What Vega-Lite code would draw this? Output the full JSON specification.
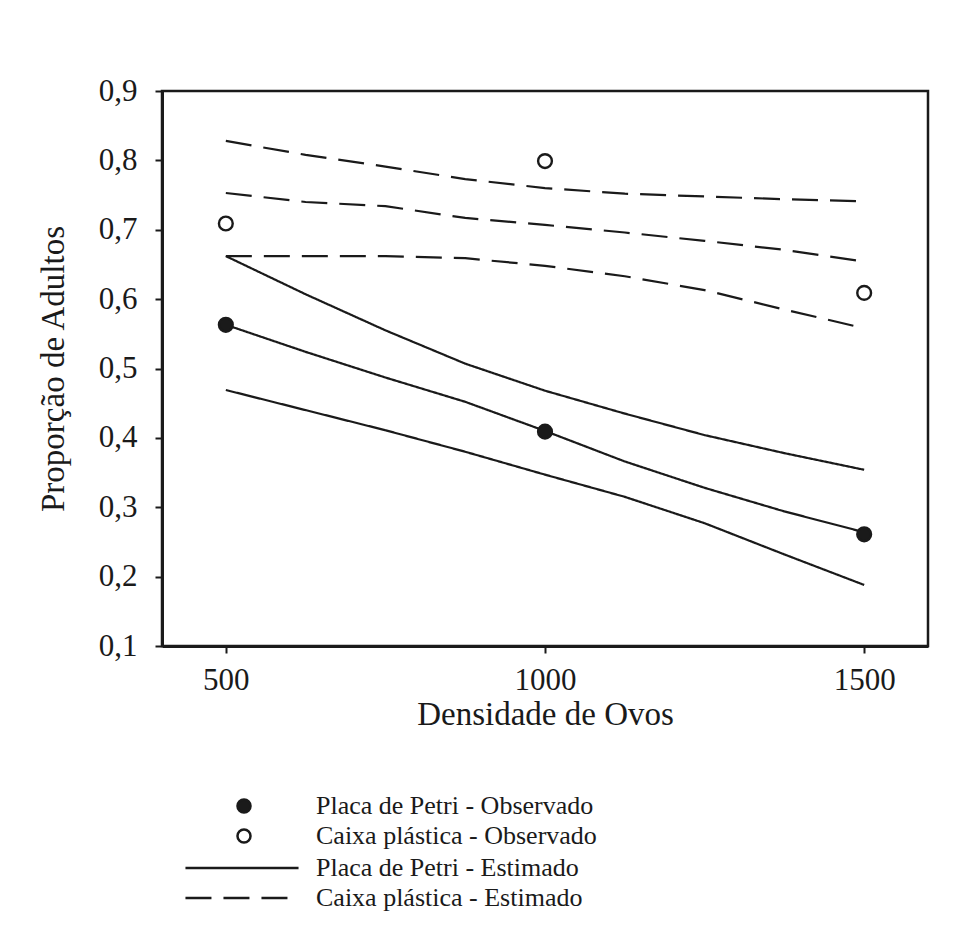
{
  "$schema": "https://vega.github.io/schema/vega-lite/v6.json",
  "width": 766,
  "height": 555,
  "autosize": {"type": "none"},
  "padding": {"left": 162, "top": 91, "right": 34, "bottom": 294},
  "background": "white",
  "config": {
    "view": {"stroke": "#1a1a1a", "strokeWidth": 2.5},
    "font": "Liberation Serif",
    "axis": {"grid": false, "domainColor": "#1a1a1a", "domainWidth": 3, "tickColor": "#1a1a1a", "tickWidth": 2, "tickSize": 7, "labelColor": "#1a1a1a", "titleColor": "#1a1a1a", "labelFont": "Liberation Serif", "titleFont": "Liberation Serif", "titleFontWeight": "normal"}
  },
  "datasets": {
    "curvas": [
      {"dens": 500, "prop": 0.662, "linha": "Petri sup", "serie": "Placa de Petri - Estimado"},
      {"dens": 625, "prop": 0.607, "linha": "Petri sup", "serie": "Placa de Petri - Estimado"},
      {"dens": 750, "prop": 0.555, "linha": "Petri sup", "serie": "Placa de Petri - Estimado"},
      {"dens": 875, "prop": 0.507, "linha": "Petri sup", "serie": "Placa de Petri - Estimado"},
      {"dens": 1000, "prop": 0.468, "linha": "Petri sup", "serie": "Placa de Petri - Estimado"},
      {"dens": 1125, "prop": 0.435, "linha": "Petri sup", "serie": "Placa de Petri - Estimado"},
      {"dens": 1250, "prop": 0.404, "linha": "Petri sup", "serie": "Placa de Petri - Estimado"},
      {"dens": 1375, "prop": 0.378, "linha": "Petri sup", "serie": "Placa de Petri - Estimado"},
      {"dens": 1500, "prop": 0.354, "linha": "Petri sup", "serie": "Placa de Petri - Estimado"},
      {"dens": 500, "prop": 0.563, "linha": "Petri med", "serie": "Placa de Petri - Estimado"},
      {"dens": 625, "prop": 0.524, "linha": "Petri med", "serie": "Placa de Petri - Estimado"},
      {"dens": 750, "prop": 0.487, "linha": "Petri med", "serie": "Placa de Petri - Estimado"},
      {"dens": 875, "prop": 0.452, "linha": "Petri med", "serie": "Placa de Petri - Estimado"},
      {"dens": 1000, "prop": 0.41, "linha": "Petri med", "serie": "Placa de Petri - Estimado"},
      {"dens": 1125, "prop": 0.366, "linha": "Petri med", "serie": "Placa de Petri - Estimado"},
      {"dens": 1250, "prop": 0.328, "linha": "Petri med", "serie": "Placa de Petri - Estimado"},
      {"dens": 1375, "prop": 0.294, "linha": "Petri med", "serie": "Placa de Petri - Estimado"},
      {"dens": 1500, "prop": 0.264, "linha": "Petri med", "serie": "Placa de Petri - Estimado"},
      {"dens": 500, "prop": 0.469, "linha": "Petri inf", "serie": "Placa de Petri - Estimado"},
      {"dens": 625, "prop": 0.44, "linha": "Petri inf", "serie": "Placa de Petri - Estimado"},
      {"dens": 750, "prop": 0.411, "linha": "Petri inf", "serie": "Placa de Petri - Estimado"},
      {"dens": 875, "prop": 0.38, "linha": "Petri inf", "serie": "Placa de Petri - Estimado"},
      {"dens": 1000, "prop": 0.347, "linha": "Petri inf", "serie": "Placa de Petri - Estimado"},
      {"dens": 1125, "prop": 0.315, "linha": "Petri inf", "serie": "Placa de Petri - Estimado"},
      {"dens": 1250, "prop": 0.277, "linha": "Petri inf", "serie": "Placa de Petri - Estimado"},
      {"dens": 1375, "prop": 0.232, "linha": "Petri inf", "serie": "Placa de Petri - Estimado"},
      {"dens": 1500, "prop": 0.188, "linha": "Petri inf", "serie": "Placa de Petri - Estimado"},
      {"dens": 500, "prop": 0.828, "linha": "Caixa sup", "serie": "Caixa plástica - Estimado"},
      {"dens": 625, "prop": 0.808, "linha": "Caixa sup", "serie": "Caixa plástica - Estimado"},
      {"dens": 750, "prop": 0.791, "linha": "Caixa sup", "serie": "Caixa plástica - Estimado"},
      {"dens": 875, "prop": 0.773, "linha": "Caixa sup", "serie": "Caixa plástica - Estimado"},
      {"dens": 1000, "prop": 0.76, "linha": "Caixa sup", "serie": "Caixa plástica - Estimado"},
      {"dens": 1125, "prop": 0.752, "linha": "Caixa sup", "serie": "Caixa plástica - Estimado"},
      {"dens": 1250, "prop": 0.748, "linha": "Caixa sup", "serie": "Caixa plástica - Estimado"},
      {"dens": 1375, "prop": 0.744, "linha": "Caixa sup", "serie": "Caixa plástica - Estimado"},
      {"dens": 1500, "prop": 0.741, "linha": "Caixa sup", "serie": "Caixa plástica - Estimado"},
      {"dens": 500, "prop": 0.753, "linha": "Caixa med", "serie": "Caixa plástica - Estimado"},
      {"dens": 625, "prop": 0.74, "linha": "Caixa med", "serie": "Caixa plástica - Estimado"},
      {"dens": 750, "prop": 0.734, "linha": "Caixa med", "serie": "Caixa plástica - Estimado"},
      {"dens": 875, "prop": 0.717, "linha": "Caixa med", "serie": "Caixa plástica - Estimado"},
      {"dens": 1000, "prop": 0.707, "linha": "Caixa med", "serie": "Caixa plástica - Estimado"},
      {"dens": 1125, "prop": 0.696, "linha": "Caixa med", "serie": "Caixa plástica - Estimado"},
      {"dens": 1250, "prop": 0.684, "linha": "Caixa med", "serie": "Caixa plástica - Estimado"},
      {"dens": 1375, "prop": 0.671, "linha": "Caixa med", "serie": "Caixa plástica - Estimado"},
      {"dens": 1500, "prop": 0.654, "linha": "Caixa med", "serie": "Caixa plástica - Estimado"},
      {"dens": 500, "prop": 0.662, "linha": "Caixa inf", "serie": "Caixa plástica - Estimado"},
      {"dens": 625, "prop": 0.662, "linha": "Caixa inf", "serie": "Caixa plástica - Estimado"},
      {"dens": 750, "prop": 0.662, "linha": "Caixa inf", "serie": "Caixa plástica - Estimado"},
      {"dens": 875, "prop": 0.659, "linha": "Caixa inf", "serie": "Caixa plástica - Estimado"},
      {"dens": 1000, "prop": 0.648, "linha": "Caixa inf", "serie": "Caixa plástica - Estimado"},
      {"dens": 1125, "prop": 0.633, "linha": "Caixa inf", "serie": "Caixa plástica - Estimado"},
      {"dens": 1250, "prop": 0.613, "linha": "Caixa inf", "serie": "Caixa plástica - Estimado"},
      {"dens": 1375, "prop": 0.585, "linha": "Caixa inf", "serie": "Caixa plástica - Estimado"},
      {"dens": 1500, "prop": 0.558, "linha": "Caixa inf", "serie": "Caixa plástica - Estimado"}
    ],
    "observado": [
      {"dens": 500, "prop": 0.563, "serie": "Placa de Petri - Observado"},
      {"dens": 1000, "prop": 0.409, "serie": "Placa de Petri - Observado"},
      {"dens": 1500, "prop": 0.261, "serie": "Placa de Petri - Observado"},
      {"dens": 500, "prop": 0.709, "serie": "Caixa plástica - Observado"},
      {"dens": 1000, "prop": 0.799, "serie": "Caixa plástica - Observado"},
      {"dens": 1500, "prop": 0.609, "serie": "Caixa plástica - Observado"}
    ]
  },
  "encoding": {
    "x": {"field": "dens", "type": "quantitative", "scale": {"domain": [400, 1600], "nice": false, "zero": false},
      "axis": {"values": [500, 1000, 1500], "format": "d", "title": "Densidade de Ovos", "labelFontSize": 31, "titleFontSize": 33, "labelPadding": 12, "titlePadding": 3}},
    "y": {"field": "prop", "type": "quantitative", "scale": {"domain": [0.1, 0.9], "nice": false, "zero": false},
      "axis": {"values": [0.1, 0.2, 0.3, 0.4, 0.5, 0.6, 0.7, 0.8, 0.9], "labelExpr": "replace(format(datum.value, '.1f'), '.', ',')", "title": "Proporção de Adultos", "labelFontSize": 31, "titleFontSize": 33, "labelPadding": 18, "titlePadding": 28}}
  },
  "layer": [
    {
      "mark": {"type": "rule", "color": "#c4c4c4", "strokeWidth": 1.2, "clip": false},
      "encoding": {"x": {"datum": 400, "type": "quantitative"}, "y": {"datum": 0.1, "type": "quantitative"}, "y2": {"datum": -0.33}}
    },
    {
      "mark": {"type": "rule", "color": "#c4c4c4", "strokeWidth": 1.2, "clip": false},
      "encoding": {"x": {"datum": 1600, "type": "quantitative"}, "y": {"datum": 0.1, "type": "quantitative"}, "y2": {"datum": -0.33}}
    },
    {
      "data": {"name": "curvas"},
      "mark": {"type": "line", "color": "#1a1a1a", "strokeWidth": 2.2},
      "encoding": {
        "detail": {"field": "linha", "type": "nominal"},
        "strokeDash": {"field": "serie", "type": "nominal",
          "scale": {"domain": ["Placa de Petri - Estimado", "Caixa plástica - Estimado"], "range": [[1, 0], [26, 12]]},
          "legend": {"title": null, "orient": "none", "legendX": 67, "legendY": 764, "symbolType": "M-5.14,0H5.14", "symbolSize": 484, "symbolStrokeWidth": 2.5, "symbolStrokeColor": "#1a1a1a", "symbolFillColor": "transparent", "labelFontSize": 26, "labelFont": "Liberation Serif", "labelColor": "#1a1a1a", "labelOffset": 61, "rowPadding": 4, "padding": 0, "labelLimit": 500}}
      }
    },
    {
      "data": {"name": "observado"},
      "mark": {"type": "point", "shape": "circle", "filled": true, "stroke": "#1a1a1a", "strokeWidth": 2.4, "size": 190, "opacity": 1},
      "encoding": {
        "fill": {"field": "serie", "type": "nominal",
          "scale": {"domain": ["Placa de Petri - Observado", "Caixa plástica - Observado"], "range": ["#1a1a1a", "#ffffff"]},
          "legend": {"title": null, "orient": "none", "legendX": 69, "legendY": 702, "symbolType": "circle", "symbolSize": 170, "symbolStrokeWidth": 2.5, "symbolStrokeColor": "#1a1a1a", "symbolOpacity": 1, "labelFontSize": 26, "labelFont": "Liberation Serif", "labelColor": "#1a1a1a", "labelOffset": 59, "rowPadding": 4, "padding": 0, "labelLimit": 500}}
      }
    }
  ]
}
